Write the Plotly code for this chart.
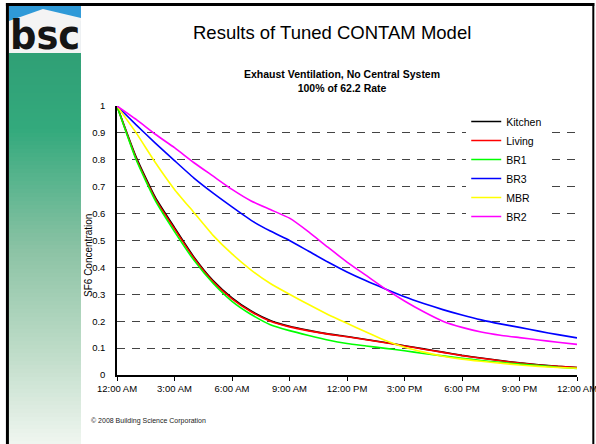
import plotly.graph_objects as go

# hours since midnight, one point per hour
hours = list(range(25))
tick_hours = [0, 3, 6, 9, 12, 15, 18, 21, 24]
tick_labels = ["12:00 AM", "3:00 AM", "6:00 AM", "9:00 AM", "12:00 PM",
               "3:00 PM", "6:00 PM", "9:00 PM", "12:00 AM"]

kitchen = [1.0, 0.81, 0.66, 0.548, 0.44, 0.352, 0.287, 0.238, 0.203, 0.181, 0.166, 0.153, 0.143,
           0.132, 0.121, 0.109, 0.097, 0.085, 0.073, 0.063, 0.054, 0.045, 0.038, 0.032, 0.028]
living = [1.0, 0.805, 0.655, 0.543, 0.436, 0.348, 0.283, 0.235, 0.2, 0.179, 0.164, 0.152, 0.142,
          0.131, 0.12, 0.108, 0.096, 0.084, 0.072, 0.062, 0.053, 0.044, 0.037, 0.032, 0.028]
br1 = [1.0, 0.80, 0.648, 0.533, 0.428, 0.342, 0.274, 0.225, 0.187, 0.165, 0.147, 0.13, 0.117,
       0.108, 0.099, 0.09, 0.08, 0.071, 0.062, 0.054, 0.047, 0.041, 0.035, 0.029, 0.024]
br3 = [1.0, 0.93, 0.862, 0.797, 0.733, 0.677, 0.625, 0.575, 0.535, 0.5, 0.46, 0.42, 0.383,
       0.35, 0.32, 0.291, 0.266, 0.243, 0.223, 0.205, 0.19, 0.177, 0.163, 0.15, 0.138]
mbr = [1.0, 0.90, 0.79, 0.69, 0.605, 0.52, 0.45, 0.39, 0.34, 0.30, 0.262, 0.225, 0.192,
       0.16, 0.128, 0.103, 0.085, 0.07, 0.059, 0.051, 0.044, 0.037, 0.032, 0.028, 0.025]
br2 = [1.0, 0.95, 0.895, 0.845, 0.79, 0.74, 0.69, 0.647, 0.615, 0.583, 0.532, 0.475, 0.42,
       0.37, 0.32, 0.275, 0.235, 0.2, 0.177, 0.16, 0.148, 0.139, 0.13, 0.122, 0.114]

series = [("Kitchen", kitchen, "#000000"), ("Living", living, "#ff0000"),
          ("BR1", br1, "#00ff00"), ("BR3", br3, "#0000ff"),
          ("MBR", mbr, "#ffff00"), ("BR2", br2, "#ff00ff")]

W, H = 596, 444
L, R, T, B = 117, 576.7, 106, 375  # plot area in pixels

def fx(px):
    return (px - L) / (R - L)

def fy(py):
    return (B - py) / (B - T)

FONT = "Liberation Sans, Arial, sans-serif"

fig = go.Figure()
for name, vals, col in series:
    fig.add_trace(go.Scatter(x=hours, y=vals, name=name, mode="lines",
                             line=dict(color=col, width=1.6, shape="spline", smoothing=0.5)))

shapes = []
# sidebar gradient (green fading to white)
stops = [(53, (48, 160, 118)), (130, (52, 170, 125)), (250, (140, 195, 165)),
         (350, (190, 220, 200)), (444, (240, 246, 240))]
y0 = 53
while y0 < 444:
    y1 = min(y0 + 4, 444)
    ym = (y0 + y1) / 2
    for (a, ca), (b, cb) in zip(stops[:-1], stops[1:]):
        if a <= ym <= b:
            t = (ym - a) / (b - a)
            c = tuple(int(ca[i] + (cb[i] - ca[i]) * t) for i in range(3))
            break
    shapes.append(dict(type="rect", xref="paper", yref="paper",
                       x0=fx(9), x1=fx(81), y0=fy(y1 + 0.5), y1=fy(y0),
                       fillcolor="rgb(%d,%d,%d)" % c, line=dict(width=0)))
    y0 = y1
# logo: sky, roof, house
shapes.append(dict(type="rect", xref="paper", yref="paper", x0=fx(9), x1=fx(81),
                   y0=fy(53), y1=fy(5), fillcolor="#2f9ad8", line=dict(width=0)))
roof = "M %f,%f L %f,%f L %f,%f L %f,%f L %f,%f Z" % (
    fx(9), fy(21), fx(43), fy(9), fx(81), fy(18), fx(81), fy(53), fx(9), fy(53))
shapes.append(dict(type="path", xref="paper", yref="paper", path=roof,
                   fillcolor="#f4f4f4", line=dict(width=0)))
# slide border
shapes.append(dict(type="line", xref="paper", yref="paper", x0=fx(7.5), x1=fx(7.5),
                   y0=fy(3), y1=fy(446), line=dict(color="black", width=3)))
shapes.append(dict(type="line", xref="paper", yref="paper", x0=fx(6), x1=fx(594),
                   y0=fy(4.5), y1=fy(4.5), line=dict(color="black", width=3)))
shapes.append(dict(type="line", xref="paper", yref="paper", x0=fx(593), x1=fx(593),
                   y0=fy(3), y1=fy(446), line=dict(color="black", width=2)))

def note(text, px, py, size, **kw):
    d = dict(text=text, x=fx(px), y=fy(py), xref="paper", yref="paper",
             xanchor="center", yanchor="middle", showarrow=False,
             font=dict(family=FONT, size=size, color="black"))
    d.update(kw)
    return d

annotations = [
    note("<b>bsc</b>", 45, 35, 41,
         font=dict(family="Liberation Sans Narrow, DejaVu Sans Condensed, Arial",
                   size=41, color="#151515")),
    note("Results of Tuned CONTAM Model", 332, 32, 18.5),
    note("<b>Exhaust Ventilation, No Central System<br>100% of 62.2 Rate</b>", 342, 80.5, 10.5),
    note("SF6 Concentration", 88, 255, 10, textangle=-90),
    note("© 2008 Building Science Corporation", 89, 421, 7, xanchor="left",
         font=dict(family=FONT, size=7, color="#222222")),
]

fig.update_layout(
    template="none",
    width=W, height=H,
    margin=dict(l=L, r=W - R, t=T, b=H - B, pad=0),
    paper_bgcolor="white", plot_bgcolor="white",
    font=dict(family=FONT, size=9, color="black"),
    showlegend=True,
    legend=dict(x=fx(466), y=fy(107), xanchor="left", yanchor="top",
                bgcolor="white", borderwidth=0, font=dict(family=FONT, size=10.5, color="black"),
                itemwidth=30),
    hovermode=False,
    shapes=shapes,
    annotations=annotations,
)
fig.update_xaxes(range=[0, 24], tickvals=tick_hours, ticktext=tick_labels,
                 showgrid=False, zeroline=False, showline=True, linecolor="black",
                 linewidth=1.5, ticks="outside", ticklen=4, tickcolor="black",
                 tickfont=dict(size=9.5), automargin=False, ticklabeloverflow="allow")
fig.update_yaxes(range=[0, 1], tickvals=[0, 0.1, 0.2, 0.3, 0.4, 0.5, 0.6, 0.7, 0.8, 0.9, 1],
                 ticktext=["0", "0.1", "0.2", "0.3", "0.4", "0.5", "0.6", "0.7", "0.8", "0.9", "1"],
                 showgrid=True, gridcolor="#444444", gridwidth=1.3, griddash="8px,7px",
                 zeroline=False, showline=True, linecolor="black", linewidth=1.5,
                 ticks="", ticklabelstandoff=8, tickfont=dict(size=9.5), automargin=False)

fig.write_html("out.html", config={"displayModeBar": False},
               post_script="document.body.style.margin='0';")
